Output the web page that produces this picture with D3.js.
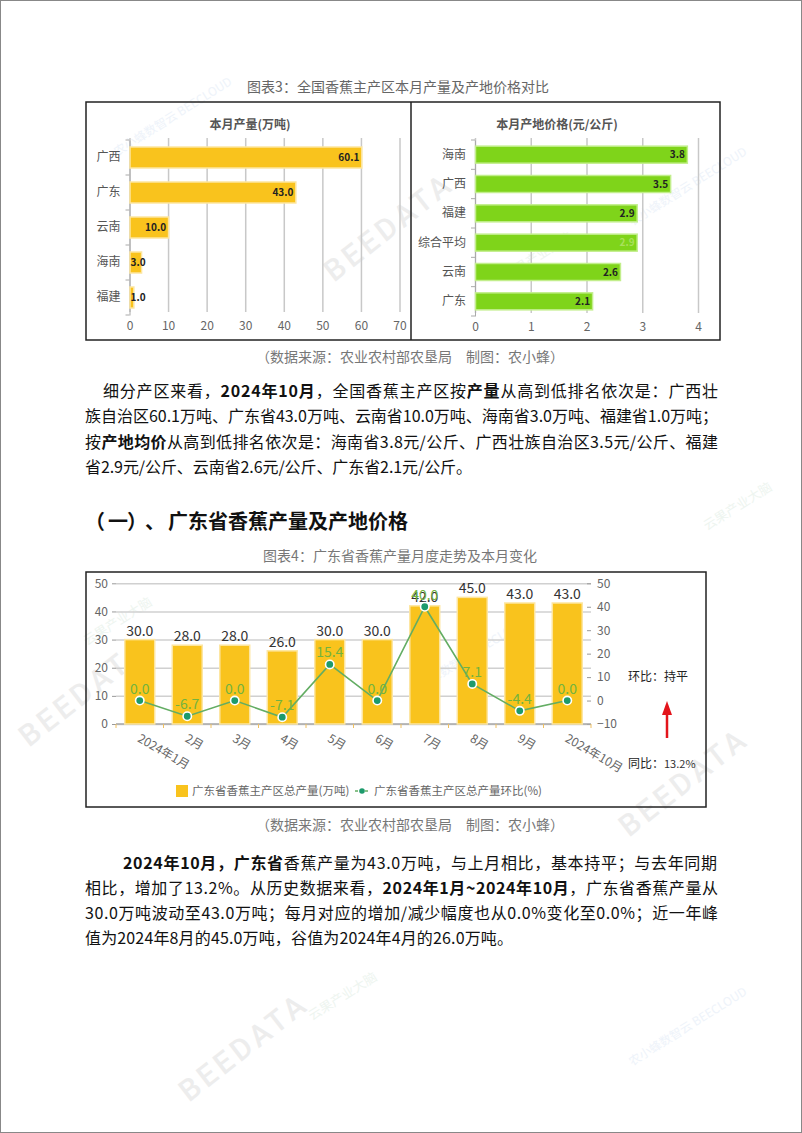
<!DOCTYPE html>
<html><head><meta charset="utf-8">
<script src="https://cdn.jsdelivr.net/npm/d3@7"></script>
<style>body{margin:0;background:#fff}svg{display:block}</style>
</head><body>
<svg id="c" width="802" height="1133"></svg>
<script>
// ---------- data ----------
const prodRegions = ["广西","广东","云南","海南","福建"];
const prodValues = [60.1,43.0,10.0,3.0,1.0];
const prodTicks = [0,10,20,30,40,50,60,70];
const priceRegions = ["海南","广西","福建","综合平均","云南","广东"];
const priceValues = [3.8,3.5,2.9,2.9,2.6,2.1];
const priceTicks = [0,1,2,3,4];
const months = ["2024年1月","2月","3月","4月","5月","6月","7月","8月","9月","2024年10月"];
const gdOutput = [30.0,28.0,28.0,26.0,30.0,30.0,42.0,45.0,43.0,43.0];
const gdMoM = [0.0,-6.7,0.0,-7.1,15.4,0.0,40.0,7.1,-4.4,0.0];
const leftTicks = [0,10,20,30,40,50];
const rightTicks = [-10,0,10,20,30,40,50];

const FONT = '"Noto Sans CJK SC","Microsoft YaHei",sans-serif';
const svg = d3.select("#c").style("font-family", FONT);

// page border
svg.append("rect").attr("x",0.5).attr("y",0.5).attr("width",801).attr("height",1132)
  .attr("fill","#fff").attr("stroke","#888");

// ---------- watermarks ----------
const wm = svg.append("g").attr("fill","#ededed").style("font-family","Roboto,sans-serif")
  .attr("font-weight",500).attr("font-size",30).attr("letter-spacing",4);
[[395,235],[690,790],[250,1055],[90,700]].forEach(p=>{
  wm.append("text").attr("transform",`translate(${p[0]},${p[1]}) rotate(-38)`)
    .attr("text-anchor","middle").text("BEEDATA");
});
const wm2 = svg.append("g").attr("fill","#eef3fa").attr("font-size",12);
[[175,120],[690,1030],[690,190],[470,660]].forEach(p=>{
  wm2.append("text").attr("transform",`translate(${p[0]},${p[1]}) rotate(-32)`)
    .attr("text-anchor","middle").text("农小蜂数智云 BEECLOUD");
});
const wm3 = svg.append("g").attr("fill","#eef5f0").attr("font-size",13);
[[345,1000],[740,510],[120,625],[540,260]].forEach(p=>{
  wm3.append("text").attr("transform",`translate(${p[0]},${p[1]}) rotate(-32)`)
    .attr("text-anchor","middle").text("云果产业大脑");
});

// ---------- helper texts ----------
function centerText(t,x,y,size,fill,weight){
  return svg.append("text").attr("x",x).attr("y",y).attr("text-anchor","middle")
    .attr("font-size",size).attr("fill",fill).attr("font-weight",weight||400).text(t);
}
centerText("图表3：全国香蕉主产区本月产量及产地价格对比",398,92,14,"#666");
centerText("（数据来源：农业农村部农垦局　制图：农小蜂）",410,362,14,"#777");
centerText("图表4：广东省香蕉产量月度走势及本月变化",400,561,14,"#777");
centerText("（数据来源：农业农村部农垦局　制图：农小蜂）",410,830,14,"#777");

function fit(t, x0, x1){
  const n = [...t.text()].length;
  const w = t.node().getComputedTextLength();
  t.attr("letter-spacing",(x1-x0-w)/(n-1));
}
// heading: punctuation placed separately to keep full-width spacing
[["（",85],["一",108],["）",127],["、",145],["广东省香蕉产量及产地价格",168]].forEach(([s,x])=>{
  svg.append("text").attr("x",x).attr("y",529).attr("font-size",20).attr("font-weight",700)
    .attr("fill","#111").text(s);
});

// paragraphs: each line = [startX, baseline, endX, segments]
const para = [
  [103,397,718,[["细分产区来看，",0],["2024年10月",1],["，全国香蕉主产区按",0],["产量",1],["从高到低排名依次是：广西壮",0]]],
  [85,422,718,[["族自治区60.1万吨、广东省43.0万吨、云南省10.0万吨、海南省3.0万吨、福建省1.0万吨；",0]]],
  [85,448,718,[["按",0],["产地均价",1],["从高到低排名依次是：海南省3.8元/公斤、广西壮族自治区3.5元/公斤、福建",0]]],
  [85,473,472,[["省2.9元/公斤、云南省2.6元/公斤、广东省2.1元/公斤。",0]]],
  [123,869,717,[["2024年10月，广东省",1],["香蕉产量为43.0万吨，与上月相比，基本持平；与去年同期",0]]],
  [85,894,718,[["相比，增加了13.2%。从历史数据来看，",0],["2024年1月~2024年10月",1],["，广东省香蕉产量从",0]]],
  [85,919,718,[["30.0万吨波动至43.0万吨；每月对应的增加/减少幅度也从0.0%变化至0.0%；近一年峰",0]]],
  [85,944,513,[["值为2024年8月的45.0万吨，谷值为2024年4月的26.0万吨。",0]]]
];
para.forEach(([x0,y0,x1,segs])=>{
  const t = svg.append("text").attr("x",x0).attr("y",y0).attr("font-size",16).attr("fill","#111");
  segs.forEach(([s,b])=>{ t.append("tspan").attr("font-weight",b?700:400).text(s); });
  fit(t,x0,x1);
});

// ---------- chart 3 frame ----------
svg.append("rect").attr("x",86).attr("y",102).attr("width",634).attr("height",238)
  .attr("fill","none").attr("stroke","#222").attr("stroke-width",1.5);
svg.append("line").attr("x1",411).attr("x2",411).attr("y1",102).attr("y2",340)
  .attr("stroke","#222").attr("stroke-width",1.5);

function hbar(opts){
  const {cats,vals,ticks,dom,xr,yr,pi,po,color,stroke,title,tx,labelColor} = opts;
  const g = svg.append("g");
  const x = d3.scaleLinear().domain(dom).range(xr);
  const y = d3.scaleBand().domain(cats).range(yr).paddingInner(pi).paddingOuter(po);
  g.append("text").attr("x",tx).attr("y",yr[0]-11).attr("text-anchor","middle")
    .attr("font-size",12).attr("font-weight",600).attr("fill","#555").text(title);
  const gx = g.append("g").attr("transform",`translate(0,${yr[1]-3})`)
    .call(d3.axisBottom(x).tickValues(ticks).tickSize(-(yr[1]-yr[0]-1)).tickPadding(9).tickFormat(d3.format("d")));
  gx.select(".domain").remove();
  gx.selectAll("line").attr("stroke","#c8c8c8").attr("stroke-width",1.5);
  gx.selectAll("text").attr("fill","#666").attr("font-size",12).style("font-family",FONT);
  const gy = g.append("g").attr("transform",`translate(${xr[0]},0)`)
    .call(d3.axisLeft(y).tickSize(0).tickPadding(9));
  gy.select(".domain").attr("stroke","#aaa");
  gy.selectAll("text").attr("fill","#555").attr("font-size",12).style("font-family",FONT);
  const step = y.step();
  d3.range(cats.length+1).forEach(i=>{
    const yy = y(cats[0]) - y.paddingInner()*step/2 + i*step;
    g.append("line").attr("x1",xr[0]-4).attr("x2",xr[0]).attr("y1",yy).attr("y2",yy).attr("stroke","#aaa");
  });
  g.selectAll(".bar").data(cats).join("rect")
    .attr("x",x(0)+0.5).attr("y",d=>y(d)).attr("height",y.bandwidth())
    .attr("width",(d,i)=>x(vals[i])-x(0)).attr("fill",color).attr("stroke",stroke).attr("stroke-width",1.5);
  g.selectAll(".lbl").data(cats).join("text")
    .attr("x",(d,i)=>{const w=x(vals[i])-x(0); return w<16? x(0)+1 : x(vals[i])-2;})
    .attr("text-anchor",(d,i)=> (x(vals[i])-x(0))<16 ? "start":"end")
    .attr("y",d=>y(d)+y.bandwidth()/2).attr("dy","0.35em")
    .attr("font-size",10).attr("font-weight",600)
    .attr("fill",(d,i)=>labelColor(d,i))
    .text((d,i)=>vals[i].toFixed(1));
}
hbar({cats:prodRegions,vals:prodValues,ticks:prodTicks,dom:[0,70],xr:[129.5,399.5],yr:[140,315],
  pi:0.4,po:0.2,color:"#f9c31d",stroke:"#fde6a0",title:"本月产量(万吨)",tx:250,labelColor:()=>"#222"});
hbar({cats:priceRegions,vals:priceValues,ticks:priceTicks,dom:[0,4],xr:[475,698],yr:[140,316],
  pi:0.42,po:0.21,color:"#7fd41a",stroke:"#c2ee8c",title:"本月产地价格(元/公斤)",tx:557,
  labelColor:(d)=> d==="综合平均" ? "#a9e05c" : "#222"});

// ---------- chart 4 ----------
svg.append("rect").attr("x",86).attr("y",572).attr("width",620).attr("height",235)
  .attr("fill","none").attr("stroke","#222").attr("stroke-width",1.5);
const c4 = svg.append("g");
const xb = d3.scaleBand().domain(months).range([116,591]).paddingInner(0.37).paddingOuter(0.185);
const yl = d3.scaleLinear().domain([0,50]).range([724,583.3]);
const yr = d3.scaleLinear().domain([-10,50]).range([724,583.3]);

const gl = c4.append("g").attr("transform","translate(116,0)")
  .call(d3.axisLeft(yl).tickValues(leftTicks).tickSize(-(591-116)).tickPadding(8));
gl.select(".domain").remove();
gl.selectAll("line").attr("stroke","#d0d0d0").attr("stroke-width",1.5);
gl.selectAll("text").attr("fill","#666").attr("font-size",12).style("font-family",FONT);
gl.selectAll(".tick").append("line").attr("x1",-4).attr("x2",0).attr("stroke","#999");

const gr = c4.append("g").attr("transform","translate(591,0)")
  .call(d3.axisRight(yr).tickValues(rightTicks).tickSize(0).tickPadding(6));
gr.select(".domain").remove();
gr.selectAll("text").attr("fill","#666").attr("font-size",12).style("font-family",FONT);
gr.selectAll(".tick").append("line").attr("x1",-4).attr("x2",0).attr("stroke","#999");

// x axis
c4.append("line").attr("x1",116).attr("x2",591).attr("y1",724).attr("y2",724).attr("stroke","#aaa").attr("stroke-width",1.5);
d3.range(months.length+1).forEach(i=>{
  const xx = 116 + i*xb.step();
  c4.append("line").attr("x1",xx).attr("x2",xx).attr("y1",724).attr("y2",728).attr("stroke","#f0c060");
});
c4.selectAll(".xl").data(months).join("text")
  .attr("transform",d=>`translate(${xb(d)+xb.bandwidth()/2-3},${741}) rotate(30)`)
  .attr("font-size",12).attr("fill","#666").text(d=>d);

// bars
c4.selectAll(".b4").data(months).join("rect")
  .attr("x",d=>xb(d)).attr("width",xb.bandwidth())
  .attr("y",(d,i)=>yl(gdOutput[i])).attr("height",(d,i)=>yl(0)-yl(gdOutput[i]))
  .attr("fill","#f9c31d").attr("stroke","#fde6a0").attr("stroke-width",1.5);
c4.selectAll(".bl").data(months).join("text")
  .attr("x",d=>xb(d)+xb.bandwidth()/2).attr("y",(d,i)=>yl(gdOutput[i])-4)
  .attr("text-anchor","middle").attr("font-size",14).attr("fill","#333")
  .text((d,i)=>gdOutput[i].toFixed(1));

// line
const line = d3.line().x(d=>xb(d[0])+xb.bandwidth()/2).y(d=>yr(d[1]));
const pts = months.map((m,i)=>[m,gdMoM[i]]);
c4.append("path").attr("d",line(pts)).attr("fill","none").attr("stroke","#63ad63").attr("stroke-width",1.6);
c4.selectAll(".pt").data(pts).join("circle")
  .attr("cx",d=>xb(d[0])+xb.bandwidth()/2).attr("cy",d=>yr(d[1])).attr("r",4.2)
  .attr("fill","#1d9a6c").attr("stroke","#fff").attr("stroke-width",1.6);
c4.selectAll(".pl").data(pts).join("text")
  .attr("x",d=>xb(d[0])+xb.bandwidth()/2).attr("y",d=>yr(d[1])-7)
  .attr("text-anchor","middle").attr("font-size",14).attr("fill","#72b33e")
  .text(d=>d[1].toFixed(1));

// legend
c4.append("rect").attr("x",176).attr("y",785).attr("width",12).attr("height",12).attr("fill","#f9c31d");
c4.append("text").attr("x",192).attr("y",795).attr("font-size",11.5).attr("fill","#666").text("广东省香蕉主产区总产量(万吨)");
c4.append("line").attr("x1",355).attr("x2",369).attr("y1",791).attr("y2",791).attr("stroke","#63ad63").attr("stroke-width",1.5).attr("stroke-dasharray","3,2");
c4.append("circle").attr("cx",362).attr("cy",791).attr("r",2.8).attr("fill","#1d9a6c");
c4.append("text").attr("x",374).attr("y",795).attr("font-size",11.5).attr("fill","#666").text("广东省香蕉主产区总产量环比(%)");

// annotations
c4.append("text").attr("x",628).attr("y",681).attr("font-size",12).attr("fill","#222").text("环比：持平");
c4.append("line").attr("x1",667).attr("x2",667).attr("y1",738).attr("y2",712).attr("stroke","#e3141b").attr("stroke-width",2.5);
c4.append("path").attr("d","M667,701 L672,715 L662,715 Z").attr("fill","#e3141b");
const tb = c4.append("text").attr("x",628).attr("y",768).attr("font-size",12).attr("fill","#222");
tb.append("tspan").text("同比：");
tb.append("tspan").attr("font-size",11).attr("fill","#333").text("13.2%");
</script>
</body></html>
